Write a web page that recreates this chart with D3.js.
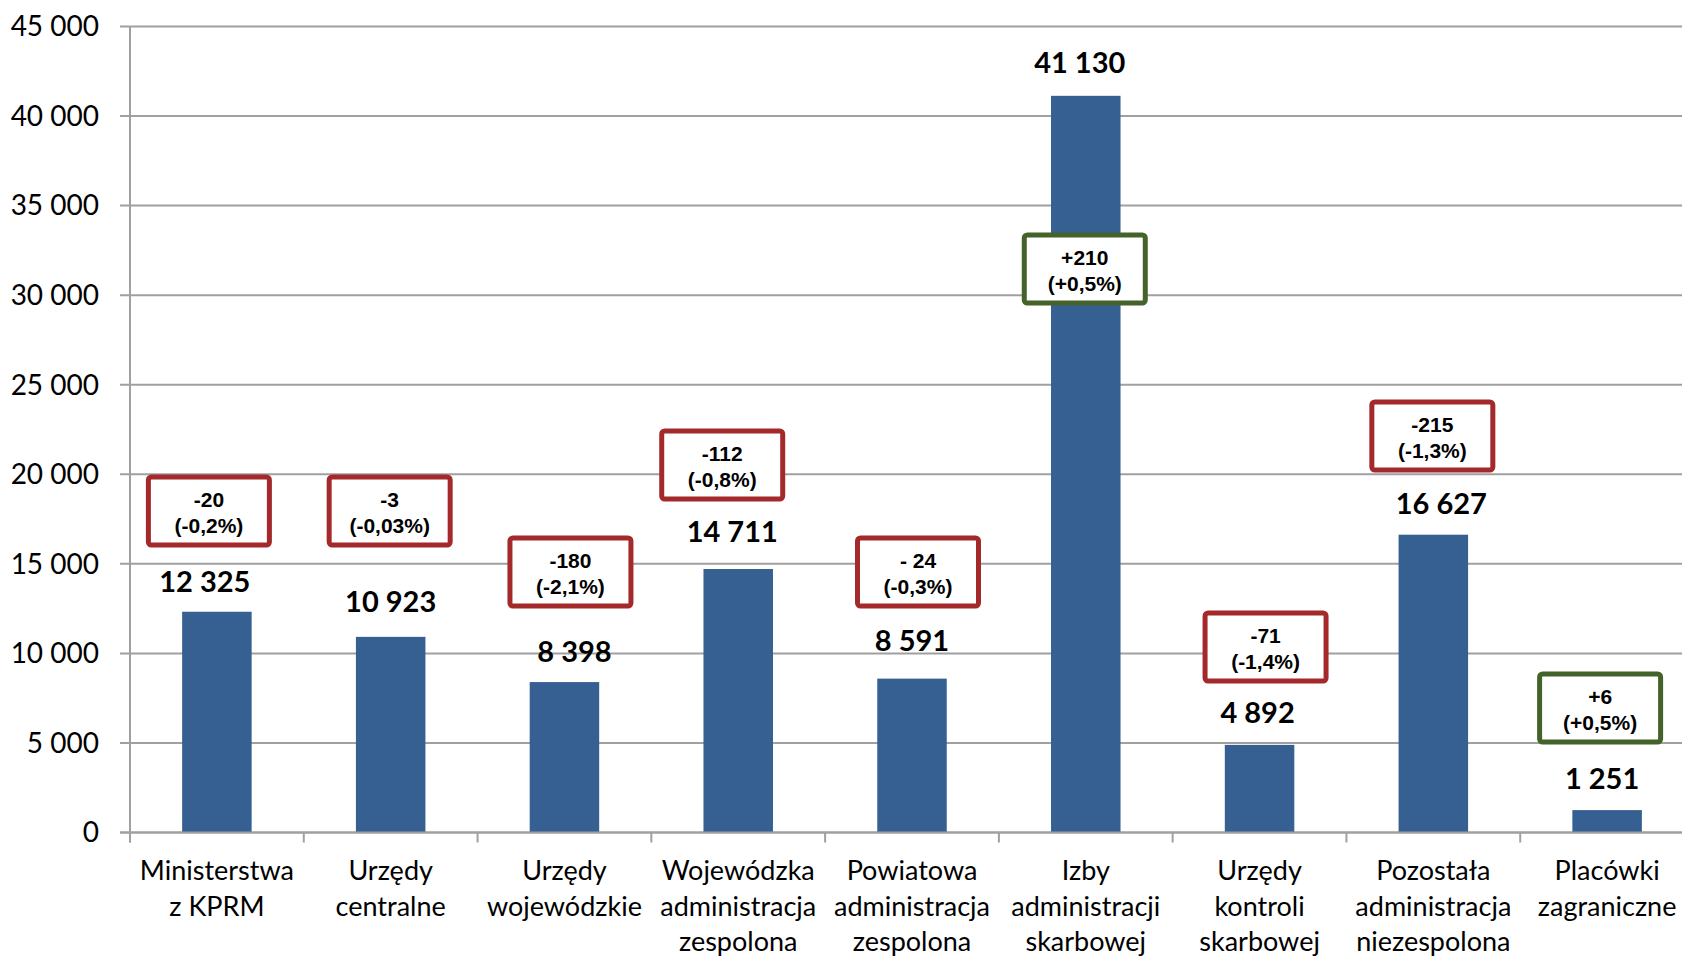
<!DOCTYPE html>
<html><head><meta charset="utf-8">
<script src="https://cdn.jsdelivr.net/npm/d3@7"></script>
<style>html,body{margin:0;padding:0;background:#fff;overflow:hidden}</style>
</head><body>
<svg id="chart" width="1682" height="956"></svg>
<script>
// ---- data ----
const categories = ["Ministerstwa\nz KPRM","Urzędy\ncentralne","Urzędy\nwojewódzkie","Wojewódzka\nadministracja\nzespolona","Powiatowa\nadministracja\nzespolona","Izby\nadministracji\nskarbowej","Urzędy\nkontroli\nskarbowej","Pozostała\nadministracja\nniezespolona","Placówki\nzagraniczne"];
const values = [12325, 10923, 8398, 14711, 8591, 41130, 4892, 16627, 1251];
const valueLabels = ["12 325","10 923","8 398","14 711","8 591","41 130","4 892","16 627","1 251"];
const changeAbs = ["-20","-3","-180","-112","- 24","+210","-71","-215","+6"];
const changePct = ["(-0,2%)","(-0,03%)","(-2,1%)","(-0,8%)","(-0,3%)","(+0,5%)","(-1,4%)","(-1,3%)","(+0,5%)"];
const changeSign = [-1,-1,-1,-1,-1,1,-1,-1,1];
const yTicks = [0,5000,10000,15000,20000,25000,30000,35000,40000,45000];
const yTickLabels = ["0","5 000","10 000","15 000","20 000","25 000","30 000","35 000","40 000","45 000"];

// ---- layout (annotation placement, in value units / px) ----
const boxCenterValue = [17950,17950,14544,20518,14544,31461,10357,22137,6951];
const boxShiftX = [-8,-1,6,-16,6,-1,6,-1,-7];
const labelGap = [20,25,20,27,28,23,22,21,21];
const labelShiftX = [-12,0,10,-6,0,-6,-2,8,-5];

const W = 1682, H = 956;
const mLeft = 130, mRight = 1694, mTop = 26.5, mBottom = 832.5;
const svg = d3.select("#chart");

const x = d3.scaleBand().domain(d3.range(categories.length)).range([mLeft, mRight]).paddingInner(0.6).paddingOuter(0.3);
const y = d3.scaleLinear().domain([0, 45000]).range([mBottom, mTop]);
const step = x.step();

const gridColor = "#A0A0A0";
// gridlines
svg.append("g").selectAll("line").data(yTicks).join("line")
  .attr("x1", mLeft - 10).attr("x2", W).attr("y1", d => y(d)).attr("y2", d => y(d))
  .attr("stroke", gridColor).attr("stroke-width", 2);
// y axis line
svg.append("line").attr("x1", mLeft).attr("x2", mLeft).attr("y1", mTop).attr("y2", mBottom + 10)
  .attr("stroke", gridColor).attr("stroke-width", 2);
// x tick marks
svg.append("g").selectAll("line").data(d3.range(categories.length + 1)).join("line")
  .attr("x1", i => mLeft + i * step).attr("x2", i => mLeft + i * step)
  .attr("y1", mBottom).attr("y2", mBottom + 10)
  .attr("stroke", gridColor).attr("stroke-width", 2);

// y tick labels
svg.append("g").selectAll("text").data(yTicks).join("text")
  .attr("x", 99).attr("y", d => y(d)).attr("dy", "0.35em")
  .attr("text-anchor", "end")
  .attr("font-family", "Lato, 'Open Sans', sans-serif").attr("font-size", 28).attr("fill", "#000")
  .text((d, i) => yTickLabels[i]);

// bars
svg.append("g").selectAll("rect").data(values).join("rect")
  .attr("x", (d, i) => x(i)).attr("width", x.bandwidth())
  .attr("y", d => y(d)).attr("height", d => mBottom - y(d))
  .attr("fill", "#376092");
// redraw zero line over bars
svg.append("line").attr("x1", mLeft - 10).attr("x2", W).attr("y1", mBottom).attr("y2", mBottom)
  .attr("stroke", gridColor).attr("stroke-width", 2);

// value labels
svg.append("g").selectAll("text").data(values).join("text")
  .attr("x", (d, i) => x(i) + x.bandwidth() / 2 + labelShiftX[i])
  .attr("y", (d, i) => y(d) - labelGap[i])
  .attr("text-anchor", "middle")
  .attr("font-family", "Lato, 'Open Sans', sans-serif").attr("font-weight", "bold").attr("font-size", 29)
  .attr("fill", "#000")
  .text((d, i) => valueLabels[i]);

// category labels
const cat = svg.append("g").selectAll("text").data(categories).join("text")
  .attr("text-anchor", "middle")
  .attr("font-family", "Lato, 'Open Sans', sans-serif").attr("font-size", 27).attr("fill", "#000");
cat.each(function(d, i) {
  const t = d3.select(this);
  d.split("\n").forEach((line, k) => {
    t.append("tspan").attr("x", x(i) + x.bandwidth() / 2).attr("y", 880 + k * 35.5).text(line);
  });
});

// change boxes
const bw = 121, bh = 68;
const boxes = svg.append("g").selectAll("g").data(values).join("g")
  .attr("transform", (d, i) => `translate(${x(i) + x.bandwidth() / 2 + boxShiftX[i]},${y(boxCenterValue[i])})`);
boxes.append("rect")
  .attr("x", -bw / 2).attr("y", -bh / 2).attr("width", bw).attr("height", bh).attr("rx", 3)
  .attr("fill", "#fff")
  .attr("stroke", (d, i) => changeSign[i] > 0 ? "#44632A" : "#A3292B").attr("stroke-width", 5);
boxes.append("text").attr("text-anchor", "middle").attr("y", -4)
  .attr("font-family", "'Liberation Sans', Arial, sans-serif").attr("font-weight", "bold").attr("font-size", 21)
  .text((d, i) => changeAbs[i]);
boxes.append("text").attr("text-anchor", "middle").attr("y", 22)
  .attr("font-family", "'Liberation Sans', Arial, sans-serif").attr("font-weight", "bold").attr("font-size", 21)
  .text((d, i) => changePct[i]);
</script>
</body></html>
